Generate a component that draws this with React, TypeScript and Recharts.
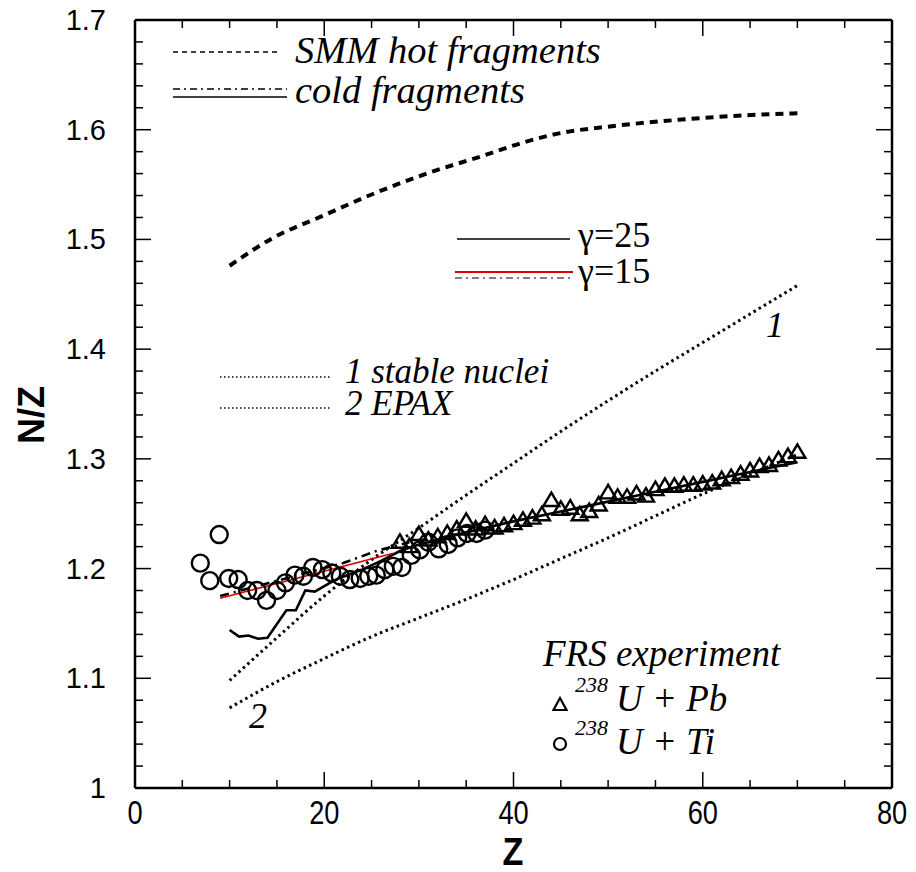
import React from 'react';
import { ComposedChart, Line, Scatter, XAxis, YAxis } from 'recharts';

// ---- axis ticks ----
const X_TICKS = [0, 5, 10, 15, 20, 25, 30, 35, 40, 45, 50, 55, 60, 65, 70, 75, 80];
const X_LABELS = [0, 20, 40, 60, 80];
const Y_TICKS = [1.0, 1.02, 1.04, 1.06, 1.08, 1.1, 1.12, 1.14, 1.16, 1.18, 1.2, 1.22, 1.24, 1.26, 1.28, 1.3, 1.32, 1.34, 1.36, 1.38, 1.4, 1.42, 1.44, 1.46, 1.48, 1.5, 1.52, 1.54, 1.56, 1.58, 1.6, 1.62, 1.64, 1.66, 1.68, 1.7];
const Y_LABELS = [1.0, 1.1, 1.2, 1.3, 1.4, 1.5, 1.6, 1.7];

// ---- series ----
const smmHot = [
  { z: 10, v: 1.476 }, { z: 14.5, v: 1.501 }, { z: 19.7, v: 1.521 }, { z: 25.3, v: 1.542 },
  { z: 31.5, v: 1.562 }, { z: 36.7, v: 1.576 }, { z: 40.9, v: 1.588 }, { z: 45, v: 1.597 },
  { z: 50.2, v: 1.603 }, { z: 57.4, v: 1.609 }, { z: 64.1, v: 1.613 }, { z: 70, v: 1.615 },
];
const stableNuclei = [
  { z: 10, v: 1.098 }, { z: 15, v: 1.137 }, { z: 20, v: 1.175 }, { z: 25, v: 1.208 },
  { z: 30, v: 1.237 }, { z: 35, v: 1.267 }, { z: 40, v: 1.296 }, { z: 45, v: 1.325 },
  { z: 50, v: 1.353 }, { z: 55, v: 1.38 }, { z: 60, v: 1.406 }, { z: 65, v: 1.432 }, { z: 70, v: 1.458 },
];
const epax = [
  { z: 10, v: 1.073 }, { z: 15, v: 1.097 }, { z: 20, v: 1.118 }, { z: 25, v: 1.138 },
  { z: 30, v: 1.155 }, { z: 35, v: 1.172 }, { z: 40, v: 1.19 }, { z: 45, v: 1.209 },
  { z: 50, v: 1.228 }, { z: 55, v: 1.248 }, { z: 60, v: 1.268 }, { z: 65, v: 1.286 }, { z: 70, v: 1.304 },
];
const coldGamma25 = [
  { z: 10, v: 1.144 }, { z: 11, v: 1.138 }, { z: 12, v: 1.139 }, { z: 13, v: 1.136 }, { z: 14, v: 1.137 },
  { z: 16, v: 1.162 }, { z: 17, v: 1.162 }, { z: 18, v: 1.18 }, { z: 19, v: 1.179 }, { z: 20.6, v: 1.187 },
  { z: 21.5, v: 1.191 }, { z: 24, v: 1.199 }, { z: 26, v: 1.207 }, { z: 28, v: 1.216 }, { z: 30, v: 1.222 },
  { z: 35, v: 1.233 }, { z: 40, v: 1.243 }, { z: 45, v: 1.252 }, { z: 50, v: 1.261 }, { z: 55, v: 1.27 },
  { z: 60, v: 1.279 }, { z: 65, v: 1.288 }, { z: 70, v: 1.297 },
];
const coldGamma15 = [
  { z: 9, v: 1.175 }, { z: 22, v: 1.205 }, { z: 25.5, v: 1.216 }, { z: 29, v: 1.224 },
];
const gamma15Red = [
  { z: 9, v: 1.173 }, { z: 27.3, v: 1.214 },
];
const frsTi = [
  { z: 6.9, v: 1.205 }, { z: 7.9, v: 1.189 }, { z: 8.9, v: 1.231 }, { z: 9.9, v: 1.191 },
  { z: 10.9, v: 1.19 }, { z: 11.9, v: 1.18 }, { z: 12.9, v: 1.18 }, { z: 13.9, v: 1.171 },
  { z: 15.0, v: 1.18 }, { z: 15.9, v: 1.187 }, { z: 16.9, v: 1.194 }, { z: 17.8, v: 1.193 },
  { z: 18.8, v: 1.201 }, { z: 19.8, v: 1.199 }, { z: 20.8, v: 1.196 }, { z: 21.7, v: 1.193 },
  { z: 22.7, v: 1.19 }, { z: 23.8, v: 1.191 }, { z: 24.7, v: 1.193 }, { z: 25.5, v: 1.194 },
  { z: 26.4, v: 1.199 }, { z: 27.3, v: 1.202 }, { z: 28.2, v: 1.201 }, { z: 29.2, v: 1.212 },
  { z: 30.1, v: 1.217 }, { z: 31.0, v: 1.224 }, { z: 32.1, v: 1.218 }, { z: 33.1, v: 1.222 },
  { z: 34.1, v: 1.228 }, { z: 35.1, v: 1.232 }, { z: 36.1, v: 1.232 }, { z: 37.0, v: 1.235 },
];
const frsPb = [
  { z: 28, v: 1.224 }, { z: 29, v: 1.22 }, { z: 30, v: 1.231 }, { z: 31, v: 1.226 }, { z: 32, v: 1.229 },
  { z: 33, v: 1.232 }, { z: 34, v: 1.236 }, { z: 35, v: 1.243 }, { z: 36, v: 1.236 }, { z: 37, v: 1.24 },
  { z: 38, v: 1.237 }, { z: 39, v: 1.239 }, { z: 40, v: 1.241 }, { z: 41, v: 1.244 }, { z: 42, v: 1.246 },
  { z: 43, v: 1.249 }, { z: 44, v: 1.262 }, { z: 45, v: 1.254 }, { z: 46, v: 1.255 }, { z: 47, v: 1.249 },
  { z: 48, v: 1.252 }, { z: 49, v: 1.258 }, { z: 50, v: 1.269 }, { z: 51, v: 1.265 }, { z: 52, v: 1.265 },
  { z: 53, v: 1.268 }, { z: 54, v: 1.266 }, { z: 55, v: 1.272 }, { z: 56, v: 1.275 }, { z: 57, v: 1.275 },
  { z: 58, v: 1.276 }, { z: 59, v: 1.276 }, { z: 60, v: 1.277 }, { z: 61, v: 1.278 }, { z: 62, v: 1.281 },
  { z: 63, v: 1.283 }, { z: 64, v: 1.286 }, { z: 65, v: 1.289 }, { z: 66, v: 1.293 }, { z: 67, v: 1.294 },
  { z: 68, v: 1.299 }, { z: 69, v: 1.302 }, { z: 70, v: 1.306 },
];

const SANS = "'Liberation Sans', Arial, Helvetica, sans-serif";
const SERIF = "'Liberation Serif', 'Times New Roman', serif";

const isIn = (arr: number[], v: number) => arr.some((a) => Math.abs(a - v) < 1e-6);

const BottomTick = (p: any) => {
  const { x, y, payload } = p;
  const v = payload.value;
  const major = isIn(X_LABELS, v);
  return (
    <g>
      <line x1={x} x2={x} y1={y} y2={y - (major ? 16 : 8)} stroke="#000" strokeWidth={1.5} />
      {major && (
        <text
          x={0}
          y={y + 36}
          textAnchor="middle"
          fontFamily={SANS}
          fontSize={34}
          fill="#000"
          transform={`translate(${x} 0) scale(0.8 1)`}
        >
          {v}
        </text>
      )}
    </g>
  );
};
const TopTick = (p: any) => {
  const { x, y, payload } = p;
  const major = isIn(X_LABELS, payload.value);
  return <line x1={x} x2={x} y1={y} y2={y + (major ? 16 : 8)} stroke="#000" strokeWidth={1.5} />;
};
const LeftTick = (p: any) => {
  const { x, y, payload } = p;
  const v = payload.value;
  const major = isIn(Y_LABELS, v);
  return (
    <g>
      <line x1={x} x2={x + (major ? 16 : 8)} y1={y} y2={y} stroke="#000" strokeWidth={1.5} />
      {major && (
        <text x={x - 29} y={y + 10} textAnchor="end" fontFamily={SANS} fontSize={29} fill="#000">
          {Math.abs(v - 1) < 1e-6 ? '1' : v.toFixed(1)}
        </text>
      )}
    </g>
  );
};
const RightTick = (p: any) => {
  const { x, y, payload } = p;
  const major = isIn(Y_LABELS, payload.value);
  return <line x1={x} x2={x - (major ? 16 : 8)} y1={y} y2={y} stroke="#000" strokeWidth={1.5} />;
};

const CircleShape = (p: any) => (
  <circle cx={p.cx} cy={p.cy} r={8.5} fill="none" stroke="#000" strokeWidth={2.4} />
);
const TriangleShape = (p: any) => (
  <polygon
    points={`${p.cx},${p.cy - 8} ${p.cx - 8},${p.cy + 5.5} ${p.cx + 8},${p.cy + 5.5}`}
    fill="none"
    stroke="#000"
    strokeWidth={2.4}
    strokeLinejoin="miter"
  />
);

const axisLine = { stroke: '#000', strokeWidth: 2.5 };

export default function App() {
  return (
    <div style={{ position: 'absolute', left: 0, top: 0, width: 916, height: 872, background: '#fff' }}>
      <ComposedChart width={916} height={872} margin={{ top: 19, right: 23, bottom: 83, left: 134 }}>
        <XAxis xAxisId="b" orientation="bottom" type="number" dataKey="z" domain={[0, 80]} ticks={X_TICKS} interval={0}
          tickSize={0} tickMargin={0} height={1} axisLine={axisLine} tickLine={false} tick={BottomTick} allowDataOverflow />
        <XAxis xAxisId="t" orientation="top" type="number" dataKey="z" domain={[0, 80]} ticks={X_TICKS} interval={0}
          tickSize={0} tickMargin={0} height={1} axisLine={axisLine} tickLine={false} tick={TopTick} allowDataOverflow />
        <YAxis yAxisId="l" orientation="left" type="number" dataKey="v" domain={[1, 1.7]} ticks={Y_TICKS} interval={0}
          tickSize={0} tickMargin={0} width={1} axisLine={axisLine} tickLine={false} tick={LeftTick} allowDataOverflow />
        <YAxis yAxisId="r" orientation="right" type="number" dataKey="v" domain={[1, 1.7]} ticks={Y_TICKS} interval={0}
          tickSize={0} tickMargin={0} width={1} axisLine={axisLine} tickLine={false} tick={RightTick} allowDataOverflow />

        <Line xAxisId="b" yAxisId="l" data={smmHot} dataKey="v" type="monotone" stroke="#000" strokeWidth={4}
          strokeDasharray="8 6" dot={false} isAnimationActive={false} />
        <Line xAxisId="b" yAxisId="l" data={stableNuclei} dataKey="v" type="monotone" stroke="#000" strokeWidth={3}
          strokeDasharray="2.5 3.5" dot={false} isAnimationActive={false} />
        <Line xAxisId="b" yAxisId="l" data={epax} dataKey="v" type="monotone" stroke="#000" strokeWidth={3}
          strokeDasharray="2.5 3.5" dot={false} isAnimationActive={false} />
        <Line xAxisId="b" yAxisId="l" data={coldGamma25} dataKey="v" type="linear" stroke="#000" strokeWidth={2.6}
          dot={false} isAnimationActive={false} />
        <Line xAxisId="b" yAxisId="l" data={coldGamma15} dataKey="v" type="linear" stroke="#000" strokeWidth={2.6}
          strokeDasharray="9 5 2 5" dot={false} isAnimationActive={false} />
        <Line xAxisId="b" yAxisId="l" data={gamma15Red} dataKey="v" type="linear" stroke="#e00000" strokeWidth={1.6}
          dot={false} isAnimationActive={false} />
        <Scatter xAxisId="b" yAxisId="l" data={frsTi} dataKey="v" shape={CircleShape} isAnimationActive={false} />
        <Scatter xAxisId="b" yAxisId="l" data={frsPb} dataKey="v" shape={TriangleShape} isAnimationActive={false} />
      </ComposedChart>

      <svg width={916} height={872} style={{ position: 'absolute', left: 0, top: 0, pointerEvents: 'none' }}>
        {/* axis titles */}
        <text x={0} y={0} transform="translate(44 415) rotate(-90)" textAnchor="middle" fontFamily={SANS}
          fontWeight="bold" fontSize={36} fill="#000">N/Z</text>
        <text x={0} y={0} transform="translate(513 865) scale(0.9 1)" textAnchor="middle" fontFamily={SANS}
          fontWeight="bold" fontSize={38} fill="#000">Z</text>

        {/* legend: SMM */}
        <line x1={173} x2={278} y1={52} y2={52} stroke="#000" strokeWidth={1.4} strokeDasharray="5 4" />
        <text x={295} y={63} fontFamily={SERIF} fontStyle="italic" fontSize={38.5} fill="#000">SMM hot fragments</text>
        <line x1={173} x2={287} y1={89} y2={89} stroke="#000" strokeWidth={1.3} strokeDasharray="7 4 2 4" />
        <line x1={173} x2={287} y1={97} y2={97} stroke="#000" strokeWidth={1.4} />
        <text x={295} y={103} fontFamily={SERIF} fontStyle="italic" fontSize={38.5} fill="#000">cold fragments</text>

        {/* legend: gamma */}
        <line x1={457} x2={570} y1={239} y2={239} stroke="#000" strokeWidth={1.5} />
        <text x={578} y={247} fontFamily={SERIF} fontSize={36} fill="#000">γ=25</text>
        <line x1={455} x2={573} y1={272} y2={272} stroke="#e00000" strokeWidth={2} />
        <line x1={455} x2={573} y1={278} y2={278} stroke="#555" strokeWidth={1.3} strokeDasharray="7 4 2 4" />
        <text x={578} y={283} fontFamily={SERIF} fontSize={36} fill="#000">γ=15</text>

        {/* legend: stable / EPAX */}
        <line x1={220} x2={332} y1={377} y2={377} stroke="#000" strokeWidth={1.3} strokeDasharray="1.5 2.5" />
        <text x={345} y={383} fontFamily={SERIF} fontStyle="italic" fontSize={35} fill="#000">1 stable nuclei</text>
        <line x1={220} x2={332} y1={408} y2={408} stroke="#000" strokeWidth={1.3} strokeDasharray="1.5 2.5" />
        <text x={345} y={415} fontFamily={SERIF} fontStyle="italic" fontSize={35} fill="#000">2 EPAX</text>

        {/* curve labels */}
        <text x={775} y={337} textAnchor="middle" fontFamily={SERIF} fontStyle="italic" fontSize={36} fill="#000">1</text>
        <text x={258} y={728} textAnchor="middle" fontFamily={SERIF} fontStyle="italic" fontSize={36} fill="#000">2</text>

        {/* FRS legend */}
        <text x={543} y={666} fontFamily={SERIF} fontStyle="italic" fontSize={37} fill="#000">FRS experiment</text>
        <polygon points="560,698 553.5,710 566.5,710" fill="none" stroke="#000" strokeWidth={2.2} />
        <text x={575} y={692} fontFamily={SERIF} fontStyle="italic" fontSize={22} fill="#000">238</text>
        <text x={616} y={711} fontFamily={SERIF} fontStyle="italic" fontSize={37} fill="#000">U + Pb</text>
        <circle cx={560} cy={744} r={6} fill="none" stroke="#000" strokeWidth={2.2} />
        <text x={575} y={735} fontFamily={SERIF} fontStyle="italic" fontSize={22} fill="#000">238</text>
        <text x={616} y={754} fontFamily={SERIF} fontStyle="italic" fontSize={37} fill="#000">U + Ti</text>
      </svg>
    </div>
  );
}
